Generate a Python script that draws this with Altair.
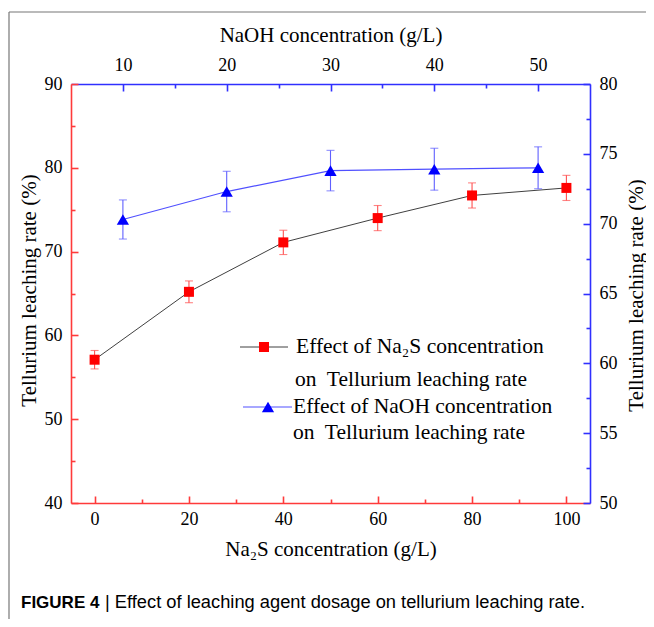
import altair as alt
import pandas as pd

# ---------------- data ----------------
na2s_conc = [0, 20, 40, 60, 80, 100]
na2s_rate = [57.1, 65.2, 71.1, 74.0, 76.7, 77.6]
na2s_err = [1.1, 1.3, 1.45, 1.5, 1.5, 1.5]

naoh_conc = [10, 20, 30, 40, 50]
naoh_rate = [70.3, 72.3, 73.8, 73.9, 74.0]
naoh_err = [1.4, 1.45, 1.45, 1.5, 1.5]

bottom_major = [0, 20, 40, 60, 80, 100]
bottom_minor = [10, 30, 50, 70, 90]
left_major = [40, 50, 60, 70, 80, 90]
left_minor = [45, 55, 65, 75, 85]
top_major = [10, 20, 30, 40, 50]
top_minor = [15, 25, 35, 45]
right_major = [50, 55, 60, 65, 70, 75, 80]
right_minor = [52.5, 57.5, 62.5, 67.5, 72.5, 77.5]

# ---------------- styles ----------------
FONT = "Liberation Serif"
SANS = "Liberation Sans"
RED_AX = "#ff3a3a"
BLUE_AX = "#3030ff"
RED_ERR = "#ff5050"
BLUE_ERR = "#6060ff"
W, H = 519, 419
LBL = 18

na2s_df = pd.DataFrame({
    "conc": na2s_conc,
    "rate": na2s_rate,
    "lo": [r - e for r, e in zip(na2s_rate, na2s_err)],
    "hi": [r + e for r, e in zip(na2s_rate, na2s_err)],
})
naoh_df = pd.DataFrame({
    "conc": naoh_conc,
    "rate": naoh_rate,
    "lo": [r - e for r, e in zip(naoh_rate, naoh_err)],
    "hi": [r + e for r, e in zip(naoh_rate, naoh_err)],
})

xs = alt.Scale(domain=[-5, 105], nice=False, zero=False)
yl = alt.Scale(domain=[40, 90], nice=False, zero=False)
xn = alt.Scale(domain=[5, 55], nice=False, zero=False)
yr = alt.Scale(domain=[50, 80], nice=False, zero=False)


def label_axis(orient, values, title, color, tx, ty, pad, angle=0):
    return alt.Axis(
        orient=orient, values=values, title=title,
        domain=True, domainColor=color, domainWidth=1.6,
        ticks=False, labels=True, grid=False,
        labelFont=FONT, labelFontSize=LBL, labelColor="black",
        labelPadding=pad, labelFlush=False, labelOverlap=False,
        titleFont=FONT, titleFontSize=21, titleFontWeight="normal",
        titleColor="black", titleX=tx, titleY=ty, titleAngle=angle,
        titleAlign="center", titleBaseline="middle",
    )


def tick_axis(orient, values, size, color):
    return alt.Axis(
        orient=orient, values=values, title=None,
        domain=False, labels=False, grid=False,
        ticks=True, tickSize=size, tickColor=color, tickWidth=1.6,
        offset=-size,
    )


# ---------------- Na2S series (bottom / left axes) ----------------
s_line = alt.Chart(na2s_df).mark_line(color="#404040", strokeWidth=1).encode(
    x=alt.X("conc:Q", scale=xs,
            axis=label_axis("bottom", bottom_major, "Na₂S concentration (g/L)",
                            RED_AX, W / 2, 46, 7)),
    y=alt.Y("rate:Q", scale=yl,
            axis=label_axis("left", left_major, "Tellurium leaching rate (%)",
                            RED_AX, -42, 206, 9, 270)),
)
s_bar = alt.Chart(na2s_df).mark_rule(color=RED_ERR, strokeWidth=1.1).encode(
    x=alt.X("conc:Q", scale=xs, axis=tick_axis("bottom", bottom_major, 7, RED_AX)),
    y=alt.Y("lo:Q", scale=yl, axis=tick_axis("left", left_major, 7, RED_AX)),
    y2="hi:Q",
)
s_cap_lo = alt.Chart(na2s_df).mark_tick(orient="horizontal", color=RED_ERR,
                                         size=8, thickness=1.1).encode(
    x=alt.X("conc:Q", scale=xs, axis=tick_axis("bottom", bottom_minor, 4, RED_AX)),
    y=alt.Y("lo:Q", scale=yl, axis=tick_axis("left", left_minor, 4, RED_AX)),
)
s_cap_hi = alt.Chart(na2s_df).mark_tick(orient="horizontal", color=RED_ERR,
                                         size=8, thickness=1.1).encode(
    x=alt.X("conc:Q", scale=xs, axis=None),
    y=alt.Y("hi:Q", scale=yl, axis=None),
)
s_pts = alt.Chart(na2s_df).mark_point(shape="square", filled=True, color="#ff0000",
                                      size=100, opacity=1).encode(
    x=alt.X("conc:Q", scale=xs, axis=None),
    y=alt.Y("rate:Q", scale=yl, axis=None),
)
na2s_layer = alt.layer(s_line, s_bar, s_cap_lo, s_cap_hi, s_pts).resolve_axis(
    x="independent", y="independent")

# ---------------- NaOH series (top / right axes) ----------------
n_line = alt.Chart(naoh_df).mark_line(color="#5050ff", strokeWidth=1.2).encode(
    x=alt.X("conc:Q", scale=xn,
            axis=label_axis("top", top_major, "NaOH concentration (g/L)",
                            BLUE_AX, W / 2, -49, 10)),
    y=alt.Y("rate:Q", scale=yr,
            axis=label_axis("right", right_major, "Tellurium leaching rate (%)",
                            BLUE_AX, 46, 211, 9, 270)),
)
n_bar = alt.Chart(naoh_df).mark_rule(color=BLUE_ERR, strokeWidth=1.1).encode(
    x=alt.X("conc:Q", scale=xn, axis=tick_axis("top", top_major, 7, BLUE_AX)),
    y=alt.Y("lo:Q", scale=yr, axis=tick_axis("right", right_major, 7, BLUE_AX)),
    y2="hi:Q",
)
n_cap_lo = alt.Chart(naoh_df).mark_tick(orient="horizontal", color=BLUE_ERR,
                                         size=8, thickness=1.1).encode(
    x=alt.X("conc:Q", scale=xn, axis=tick_axis("top", top_minor, 4, BLUE_AX)),
    y=alt.Y("lo:Q", scale=yr, axis=tick_axis("right", right_minor, 4, BLUE_AX)),
)
n_cap_hi = alt.Chart(naoh_df).mark_tick(orient="horizontal", color=BLUE_ERR,
                                         size=8, thickness=1.1).encode(
    x=alt.X("conc:Q", scale=xn, axis=None),
    y=alt.Y("hi:Q", scale=yr, axis=None),
)
n_pts = alt.Chart(naoh_df).mark_point(shape="triangle-up", filled=True, color="#0000ff",
                                      size=150, opacity=1).encode(
    x=alt.X("conc:Q", scale=xn, axis=None),
    y=alt.Y("rate:Q", scale=yr, axis=None),
)
naoh_layer = alt.layer(n_line, n_bar, n_cap_lo, n_cap_hi, n_pts).resolve_axis(
    x="independent", y="independent")

# ---------------- legend, frame and caption (decoration) ----------------
one = pd.DataFrame({"k": [0]})


def txt(s, x, y, font=FONT, size=21.5, weight="normal"):
    return alt.Chart(one).mark_text(text=s, align="left", baseline="middle", font=font,
                                    fontSize=size, fontWeight=weight,
                                    color="black").encode(x=alt.value(x), y=alt.value(y))


leg = [
    alt.Chart(one).mark_rule(color="#404040", strokeWidth=1).encode(
        x=alt.value(169), x2=alt.value(217), y=alt.value(263)),
    alt.Chart(one).mark_point(shape="square", filled=True, color="#ff0000",
                              size=100, opacity=1).encode(x=alt.value(193), y=alt.value(263)),
    txt("Effect of Na₂S concentration", 225, 263),
    txt("on\u00a0 Tellurium leaching rate", 224, 296),
    alt.Chart(one).mark_rule(color="#5050ff", strokeWidth=1.2).encode(
        x=alt.value(172), x2=alt.value(221), y=alt.value(323)),
    alt.Chart(one).mark_point(shape="triangle-up", filled=True, color="#0000ff",
                              size=150, opacity=1).encode(x=alt.value(197), y=alt.value(323)),
    txt("Effect of NaOH concentration", 222, 323),
    txt("on\u00a0 Tellurium leaching rate", 222, 349),
]

frame = [
    alt.Chart(one).mark_rule(color="#777777", strokeWidth=1.2).encode(
        x=alt.value(-62), x2=alt.value(700), y=alt.value(-72)),
    alt.Chart(one).mark_rule(color="#777777", strokeWidth=1.2).encode(
        x=alt.value(-62), y=alt.value(-72), y2=alt.value(700)),
]

caption = [
    txt("FIGURE 4", -50, 519, font=SANS, size=17, weight="bold"),
    txt("| Effect of leaching agent dosage on tellurium leaching rate.", 34, 519,
        font=SANS, size=18.3),
]

chart = alt.layer(na2s_layer, naoh_layer, *leg, *frame, *caption).resolve_scale(
    x="independent", y="independent"
).properties(
    width=W, height=H,
    autosize=alt.AutoSizeParams(type="none"),
    padding={"left": 63, "top": 76, "right": 56, "bottom": 116},
).configure_view(
    strokeWidth=0
).configure_axis(
    labelFont=FONT, titleFont=FONT, labelFontSize=LBL, titleFontSize=21,
    titleFontWeight="normal", labelColor="black", titleColor="black",
)

chart.save("out.html", embed_options={"renderer": "svg", "actions": False})
